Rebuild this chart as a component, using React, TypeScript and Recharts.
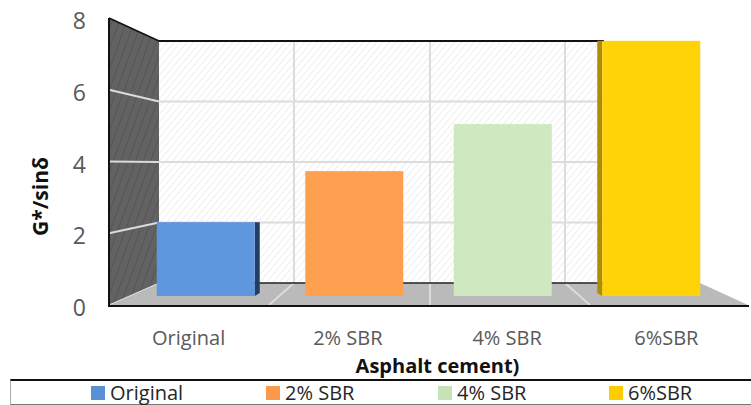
import React from "react"
import { Bar, BarChart, Customized, Legend, XAxis, YAxis } from "recharts"

const categories = ["Original", "2% SBR", "4% SBR", "6%SBR"]
const stiffness = [2.2, 3.72, 5.12, 7.6]
const yTicks = [0, 2, 4, 6, 8]

const barColors = ["#5f97de", "#ffa050", "#cfe8c0", "#ffd306"]
const legendColors = ["#5b8fd6", "#fb9a4c", "#c8e2b8", "#ffcc00"]
const sideColors = ["#223e66", null, null, "#b08d00"]

const data = categories.map((name, i) => ({ name, value: stiffness[i] }))

const fontFamily = "'Open Sans', sans-serif"
const labelGray = "#595959"

// 3D box the bars stand in: front edge of the floor, back wall, gridline drop
const frontY = (v: number) => 305 - v * 35.875
const backY = (v: number) => 283 - v * 30.25
const floorLines = [
  [294, 269],
  [430, 430],
  [565, 590],
]

const Backdrop = () => (
  <g>
    <defs>
      <pattern id="wallHatch" width="5" height="5" patternUnits="userSpaceOnUse" patternTransform="rotate(40)">
        <rect width="5" height="5" fill="#ffffff" />
        <line x1="0" y1="0" x2="0" y2="5" stroke="#ececec" strokeWidth="1.6" />
      </pattern>
      <pattern id="sideHatch" width="7" height="7" patternUnits="userSpaceOnUse" patternTransform="rotate(20)">
        <rect width="7" height="7" fill="#626262" />
        <line x1="0" y1="0" x2="0" y2="7" stroke="#555555" strokeWidth="2" />
      </pattern>
    </defs>
    <rect x={159} y={backY(8)} width={541} height={242} fill="url(#wallHatch)" />
    <polygon points={`109,${frontY(8)} 159,${backY(8)} 159,${backY(0)} 109,${frontY(0)}`} fill="url(#sideHatch)" />
    <polygon points={`109,${frontY(0)} 159,${backY(0)} 700,${backY(0)} 748,${frontY(0)}`} fill="#bababa" />
    {yTicks.slice(1, -1).map((v) => (
      <g key={v} stroke="#dcdcdc" strokeWidth={2}>
        <line x1={159} y1={backY(v)} x2={700} y2={backY(v)} />
        <line x1={109} y1={frontY(v)} x2={159} y2={backY(v)} />
      </g>
    ))}
    <line x1={109} y1={frontY(0)} x2={159} y2={backY(0)} stroke="#dcdcdc" strokeWidth={1} />
    {floorLines.map(([back, front]) => (
      <g key={back} stroke="#dcdcdc" strokeWidth={2}>
        <line x1={back} y1={backY(8)} x2={back} y2={backY(0)} />
        <line x1={back} y1={backY(0)} x2={front} y2={frontY(0)} />
      </g>
    ))}
    <line x1={159} y1={backY(0)} x2={700} y2={backY(0)} stroke="#222" strokeWidth={1.5} />
    <line x1={159} y1={backY(8)} x2={604} y2={backY(8)} stroke="#111" strokeWidth={2} />
    <line x1={109} y1={frontY(8)} x2={159} y2={backY(8)} stroke="#111" strokeWidth={1.5} />
    <line x1={109} y1={frontY(8)} x2={109} y2={frontY(0) + 1} stroke="#111" strokeWidth={2} />
    <line x1={108} y1={frontY(0) + 1} x2={749} y2={frontY(0) + 1} stroke="#111" strokeWidth={2} />
  </g>
)

const Bar3D = (props: any) => {
  const { x, y, width, height, index } = props
  const side = sideColors[index]
  const bottom = y + height
  return (
    <g>
      {side && index === 0 && (
        <polygon points={`${x + width},${y} ${x + width + 5},${y} ${x + width + 5},${bottom - 3} ${x + width},${bottom}`} fill={side} />
      )}
      {side && index === 3 && (
        <polygon points={`${x - 5},${y} ${x},${y} ${x},${bottom} ${x - 5},${bottom - 3}`} fill={side} />
      )}
      <rect x={x} y={y} width={width} height={height} fill={barColors[index]} />
    </g>
  )
}

const LegendRow = () => (
  <div
    style={{
      position: "relative",
      height: 26,
      boxSizing: "border-box",
      borderTop: "2px solid #111",
      borderBottom: "1px solid #777",
      borderLeft: "1px solid #aaa",
    }}
  >
    {categories.map((name, i) => (
      <div key={name} style={{ position: "absolute", left: [80, 255, 427, 598][i], top: 4, display: "flex", alignItems: "center", height: 16 }}>
        <span style={{ width: 14, height: 14, background: legendColors[i], marginRight: 5 }} />
        <span style={{ fontFamily, fontSize: 20, color: "#262626", lineHeight: "16px" }}>{name}</span>
      </div>
    ))}
  </div>
)

// the visible axes need a series of their own or the y ticks are not drawn
const NoMark = () => null

export default function App() {
  return (
    <div style={{ position: "absolute", left: 0, top: 0, width: 751, height: 405, background: "#fff" }}>
      <BarChart
        width={751}
        height={405}
        data={data}
        margin={{ top: 18, right: 5, bottom: 0, left: 0 }}
        barSize={98}
      >
        <Customized component={Backdrop} />
        <XAxis
          xAxisId="labels"
          dataKey="name"
          height={74}
          axisLine={false}
          tickLine={false}
          tickMargin={20}
          tick={{ fontFamily, fontSize: 20, fill: labelGray }}
          label={{ value: "Asphalt cement)", position: "insideBottom", offset: 6, dx: 10, style: { fontFamily, fontSize: 20, fontWeight: 700, fill: "#111" } }}
        />
        <XAxis xAxisId="bars" dataKey="name" hide height={0} padding={{ left: 22.75, right: 20.25 }} />
        <YAxis
          yAxisId="labels"
          width={109}
          domain={[0, 8]}
          ticks={yTicks}
          axisLine={false}
          tickLine={false}
          tickMargin={17}
          tick={{ fontFamily, fontSize: 23, fill: labelGray, dy: 3 }}
          label={{ value: "G*/sinδ", angle: -90, position: "center", dx: -14, dy: 35, style: { fontFamily, fontSize: 21, fontWeight: 700, fill: "#111" } }}
        />
        <YAxis yAxisId="bars" hide width={0} domain={[-0.268, 8.28]} allowDataOverflow />
        <Bar xAxisId="labels" yAxisId="labels" dataKey="value" shape={NoMark} legendType="none" isAnimationActive={false} />
        <Bar xAxisId="bars" yAxisId="bars" dataKey="value" shape={Bar3D} isAnimationActive={false} />
        <Legend content={LegendRow} wrapperStyle={{ left: 10, width: 741, bottom: 0, height: 26 }} />
      </BarChart>
    </div>
  )
}
